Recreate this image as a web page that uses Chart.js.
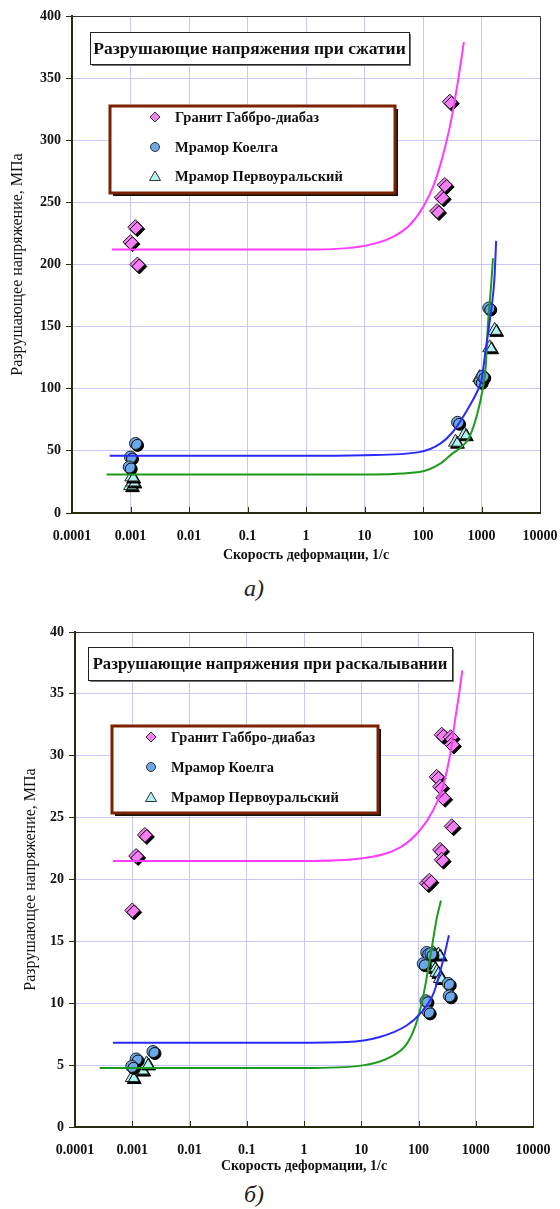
<!DOCTYPE html>
<html>
<head>
<meta charset="utf-8">
<script src="https://cdn.jsdelivr.net/npm/chart.js@4.4.1/dist/chart.umd.min.js"></script>
<style>
  body { margin: 0; background: #fff; width: 560px; height: 1209px; position: relative; overflow: hidden; }
  canvas { position: absolute; left: 0; }
  #chartA { top: 0; }
  #chartB { top: 600px; }
  .cap { position: absolute; font: italic 24px 'Liberation Serif', serif; color: #222; }
</style>
</head>
<body>
<canvas id="chartA" width="560" height="575"></canvas>
<div class="cap" style="left:244px; top:575px;">а)</div>
<canvas id="chartB" width="560" height="580"></canvas>
<div class="cap" style="left:244px; top:1181px;">б)</div>
<script>
// общие подписи
const xTicks = [0.0001, 0.001, 0.01, 0.1, 1, 10, 100, 1000, 10000];
const seriesNames = ['Гранит Габбро-диабаз', 'Мрамор Коелга', 'Мрамор Первоуральский'];

// а) сжатие — точки
const aGraniteX = [0.00121, 0.001, 0.00131, 174, 209, 235, 287];
const aGraniteY = [230, 218, 200, 243, 254, 264, 331];
const aKoelgaX = [0.00122, 0.001, 0.00095, 390, 950, 1050, 1330];
const aKoelgaY = [56, 45, 37, 73, 106, 110, 165];
const aPervX = [0.001, 0.0011, 0.00105, 360, 510, 930, 1380, 1680];
const aPervY = [22, 25, 29, 57, 63, 109, 133, 147];

// а) сжатие — линии тренда
const aGraniteFitX = [0.00048, 0.01, 1, 10, 30, 60, 100, 150, 200, 300, 400, 500];
const aGraniteFitY = [212, 212, 212, 215, 222, 232, 246, 263, 281, 315, 349, 379];
const aKoelgaFitX = [0.00044, 0.01, 1, 10, 87, 200, 320, 450, 620, 850, 1000, 1200, 1480, 1660, 1780];
const aKoelgaFitY = [46, 46, 46, 46.5, 49, 56, 65, 75, 86, 98, 107, 134, 165, 188, 219];
const aPervFitX = [0.00039, 0.01, 1, 10, 87, 200, 320, 450, 620, 850, 1040, 1190, 1270, 1480, 1570];
const aPervFitY = [31, 31, 31, 31, 33, 40, 48, 53, 61, 80, 99, 120, 147, 187, 205];

// б) раскалывание — точки
const bGraniteX = [0.001, 0.00117, 0.00166, 140, 155, 208, 238, 270, 238, 254, 380, 254, 365, 385];
const bGraniteY = [17.5, 21.9, 23.6, 19.7, 19.9, 28.3, 27.5, 26.6, 22.4, 21.6, 24.3, 31.7, 31.5, 30.9];
const bKoelgaX = [0.00117, 0.00098, 0.0023, 139, 165, 121, 331, 345, 135, 148];
const bKoelgaY = [5.5, 4.9, 6.1, 14.1, 14.0, 13.2, 11.6, 10.6, 10.2, 9.3];
const bPervX = [0.001, 0.00146, 0.00178, 183, 222, 183, 209, 240];
const bPervY = [4.0, 4.6, 5.1, 14.0, 13.9, 12.9, 12.5, 12.0];

// б) раскалывание — линии тренда
const bGraniteFitX = [0.00046, 0.01, 1, 10, 48, 107, 180, 270, 360, 436, 520, 582];
const bGraniteFitY = [21.5, 21.5, 21.5, 21.7, 22.6, 24.0, 25.6, 27.6, 30.2, 32.9, 35.2, 36.9];
const bKoelgaFitX = [0.00046, 0.01, 0.38, 5.6, 21, 62, 107, 183, 270, 340];
const bKoelgaFitY = [6.8, 6.8, 6.8, 6.86, 7.27, 8.2, 9.16, 10.8, 13.5, 15.5];
const bPervFitX = [0.00027, 0.01, 1, 10.6, 32, 62, 91, 120, 160, 211, 247];
const bPervFitY = [4.76, 4.76, 4.76, 4.98, 5.65, 6.7, 8.35, 10.5, 13.7, 17.0, 18.3];

const FONT = "'Liberation Serif', 'Times New Roman', serif";
const GRID = '#c8c8f8';
const AXIS = '#2a2a10';
const lineColors = ['#ff3cff', '#2a2aff', '#1e9a1e'];
const markerStyles = [
    { pointStyle: 'rectRot', pointRadius: 7.5, backgroundColor: '#f47ef4' },
    { pointStyle: 'circle', pointRadius: 6, backgroundColor: '#6ca8e8' },
    { pointStyle: 'triangle', pointRadius: 8, backgroundColor: '#b4f2f2' }
];

function pts(xs, ys) {
    return xs.map((x, i) => ({ x: x, y: ys[i] }));
}

// тень у маркеров, рамки, заголовок и легенда внутри графика
const boxesPlugin = {
    id: 'boxes',
    beforeDatasetDraw(chart, args) {
        if (!chart.data.datasets[args.index].shadow) return;
        const ctx = chart.ctx;
        ctx.save();
        ctx.shadowColor = '#000';
        ctx.shadowOffsetX = 2;
        ctx.shadowOffsetY = 2;
        ctx.shadowBlur = 0;
    },
    afterDatasetDraw(chart, args) {
        if (chart.data.datasets[args.index].shadow) chart.ctx.restore();
    },
    beforeDatasetsDraw(chart) {
        const ctx = chart.ctx;
        const a = chart.chartArea;
        const xs = chart.scales.x;
        ctx.save();
        ctx.strokeStyle = '#333';
        ctx.lineWidth = 1;
        ctx.beginPath();
        ctx.moveTo(a.left, a.top + 0.5);
        ctx.lineTo(a.right + 0.5, a.top + 0.5);
        ctx.lineTo(a.right + 0.5, a.bottom);
        ctx.stroke();
        // короткие засечки внутрь на оси X
        ctx.strokeStyle = AXIS;
        ctx.beginPath();
        xTicks.slice(1, -1).forEach(v => {
            const px = Math.round(xs.getPixelForValue(v)) + 0.5;
            ctx.moveTo(px, a.bottom);
            ctx.lineTo(px, a.bottom - 6);
        });
        ctx.stroke();
        ctx.restore();
    },
    afterDraw(chart, args, opts) {
        const ctx = chart.ctx;
        const t = opts.title;
        const l = opts.legend;
        ctx.save();
        // заголовок
        ctx.fillStyle = '#777';
        ctx.fillRect(t.x + 2, t.y + 2, t.w, t.h);
        ctx.fillStyle = '#fff';
        ctx.fillRect(t.x, t.y, t.w, t.h);
        ctx.strokeStyle = '#222';
        ctx.lineWidth = 1;
        ctx.strokeRect(t.x + 0.5, t.y + 0.5, t.w, t.h);
        ctx.fillStyle = '#111';
        ctx.font = 'bold ' + t.size + 'px ' + FONT;
        ctx.textAlign = 'center';
        ctx.textBaseline = 'middle';
        ctx.fillText(t.text, t.x + t.w / 2, t.y + t.h / 2 + 1);
        // легенда
        ctx.fillStyle = '#111';
        ctx.fillRect(l.x + 3, l.y + 3, l.w, l.h);
        ctx.fillStyle = '#fff';
        ctx.fillRect(l.x, l.y, l.w, l.h);
        ctx.strokeStyle = '#7b2200';
        ctx.lineWidth = 3;
        ctx.strokeRect(l.x, l.y, l.w, l.h);
        ctx.textAlign = 'left';
        ctx.font = 'bold 14.5px ' + FONT;
        seriesNames.forEach((name, i) => {
            const y = l.rows[i];
            const m = markerStyles[i];
            const mx = l.markerX;
            ctx.fillStyle = m.backgroundColor;
            ctx.strokeStyle = '#333';
            ctx.lineWidth = 1;
            ctx.beginPath();
            if (m.pointStyle === 'rectRot') {
                ctx.moveTo(mx, y - 5); ctx.lineTo(mx + 5, y); ctx.lineTo(mx, y + 5); ctx.lineTo(mx - 5, y);
                ctx.closePath();
            } else if (m.pointStyle === 'circle') {
                ctx.arc(mx, y, 4.5, 0, Math.PI * 2);
            } else {
                ctx.moveTo(mx, y - 5); ctx.lineTo(mx + 5.5, y + 4.5); ctx.lineTo(mx - 5.5, y + 4.5);
                ctx.closePath();
            }
            ctx.fill();
            ctx.stroke();
            ctx.fillStyle = '#111';
            ctx.fillText(name, l.textX, y + 1);
        });
        ctx.restore();
    }
};

function buildChart(id, c) {
    const lines = c.fits.map((f, i) => ({
        data: pts(f[0], f[1]),
        showLine: true,
        borderColor: lineColors[i],
        borderWidth: 2,
        pointRadius: 0,
        cubicInterpolationMode: 'monotone',
        order: 0
    }));
    const markers = c.points.map((p, i) => Object.assign({
        label: seriesNames[i],
        data: pts(p[0], p[1]),
        showLine: false,
        borderColor: '#222',
        borderWidth: 1,
        shadow: true,
        order: 1
    }, markerStyles[i]));

    return new Chart(document.getElementById(id), {
        type: 'scatter',
        data: { datasets: lines.concat(markers) },
        options: {
            responsive: false,
            animation: false,
            events: [],
            layout: { padding: c.padding },
            plugins: {
                legend: { display: false },
                tooltip: { enabled: false },
                boxes: c.boxes
            },
            scales: {
                x: {
                    type: 'logarithmic',
                    min: 0.0001,
                    max: 10000,
                    afterBuildTicks: s => { s.ticks = xTicks.map(v => ({ value: v })); },
                    afterFit: s => {
                        s.height = c.xHeight;
                        s.paddingLeft = 0;
                        s.paddingRight = 0;
                    },
                    ticks: {
                        callback: v => String(v),
                        autoSkip: false,
                        maxRotation: 0,
                        padding: 15,
                        color: '#111',
                        font: { family: FONT, size: 14, weight: 'bold' }
                    },
                    grid: { color: GRID, drawTicks: false },
                    border: { color: AXIS, width: 2 },
                    title: {
                        display: true,
                        text: 'Скорость деформации, 1/с',
                        color: '#111',
                        font: { family: FONT, size: 14, weight: 'bold' },
                        padding: { top: 0, bottom: c.xTitlePad }
                    }
                },
                y: {
                    min: 0,
                    max: c.yMax,
                    afterFit: s => {
                        s.width = c.yWidth;
                        s.paddingTop = 0;
                        s.paddingBottom = 0;
                    },
                    ticks: {
                        stepSize: c.yStep,
                        padding: 5,
                        color: '#111',
                        font: { family: FONT, size: 14, weight: 'bold' }
                    },
                    grid: { color: GRID, tickLength: 6, tickColor: AXIS },
                    border: { color: AXIS, width: 2 },
                    title: {
                        display: true,
                        text: 'Разрушающее напряжение, МПа',
                        color: '#111',
                        font: { family: FONT, size: 16 },
                        padding: { top: c.yTitlePad, bottom: 0 }
                    }
                }
            }
        },
        plugins: [boxesPlugin]
    });
}

buildChart('chartA', {
    points: [[aGraniteX, aGraniteY], [aKoelgaX, aKoelgaY], [aPervX, aPervY]],
    fits: [[aGraniteFitX, aGraniteFitY], [aKoelgaFitX, aKoelgaFitY], [aPervFitX, aPervFitY]],
    yMax: 400, yStep: 50,
    padding: { left: 0, top: 16, right: 20, bottom: 0 },
    yWidth: 72, xHeight: 62, xTitlePad: 11, yTitlePad: 8,
    boxes: {
        title: { x: 90, y: 32, w: 319, h: 32, size: 17.5, text: 'Разрушающие напряжения при сжатии' },
        legend: { x: 110, y: 106, w: 285, h: 87, rows: [117, 147, 176], markerX: 155, textX: 175 }
    }
});

buildChart('chartB', {
    points: [[bGraniteX, bGraniteY], [bKoelgaX, bKoelgaY], [bPervX, bPervY]],
    fits: [[bGraniteFitX, bGraniteFitY], [bKoelgaFitX, bKoelgaFitY], [bPervFitX, bPervFitY]],
    yMax: 40, yStep: 5,
    padding: { left: 0, top: 32, right: 27, bottom: 0 },
    yWidth: 75, xHeight: 53, xTitlePad: 5, yTitlePad: 21,
    boxes: {
        title: { x: 88, y: 47, w: 364, h: 33, size: 16.7, text: 'Разрушающие напряжения при раскалывании' },
        legend: { x: 112, y: 126, w: 266, h: 87, rows: [137, 167, 197], markerX: 151, textX: 171 }
    }
});
</script>
</body>
</html>
